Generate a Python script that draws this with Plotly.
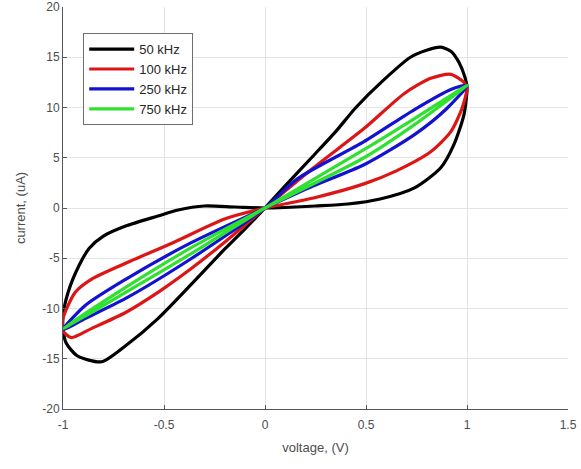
import plotly.graph_objects as go

# Loop path for each frequency: start at (-1,-12), steep branch up through origin
# to the peak and (1,12), then back along the flat branch through origin to (-1,-12).
v_50 = [-1.0, -0.985, -0.93, -0.81, -0.69, -0.53, -0.37, -0.2, -0.1, 0.0,
        0.1, 0.23, 0.35, 0.45, 0.58, 0.72, 0.8, 0.87, 0.92, 0.96, 0.99, 1.0,
        0.985, 0.935, 0.87, 0.74, 0.57, 0.41, 0.25, 0.1, 0.0,
        -0.15, -0.3, -0.43, -0.53, -0.69, -0.8, -0.87, -0.92, -0.975, -1.0, -1.0]
i_50 = [-12.0, -13.4, -14.7, -15.3, -13.7, -11.0, -7.7, -4.1, -2.1, 0.0,
        2.2, 5.0, 7.6, 10.0, 12.6, 15.0, 15.7, 16.0, 15.6, 14.5, 13.0, 12.0,
        9.3, 6.3, 4.0, 2.0, 0.9, 0.4, 0.2, 0.05, 0.0,
        0.1, 0.2, -0.2, -0.8, -1.8, -2.8, -4.0, -5.7, -8.4, -10.7, -12.0]

v_100 = [-1.0, -0.96, -0.86, -0.69, -0.53, -0.37, -0.2, 0.0,
         0.24, 0.49, 0.69, 0.82, 0.92, 0.985, 1.0,
         0.975, 0.92, 0.82, 0.65, 0.49, 0.24, 0.0,
         -0.2, -0.45, -0.69, -0.86, -0.94, -1.0, -1.0]
i_100 = [-12.2, -12.9, -12.0, -10.4, -8.4, -6.1, -3.4, 0.0,
         4.0, 7.9, 11.4, 12.9, 13.3, 12.5, 12.0,
         9.9, 7.6, 5.6, 3.7, 2.4, 1.0, 0.0,
         -1.1, -3.4, -5.5, -7.1, -8.4, -11.0, -12.2]

v_250 = [-1.0, -0.89, -0.69, -0.37, 0.0,
         0.16, 0.49, 0.74, 0.92, 1.0,
         0.9, 0.74, 0.49, 0.24, 0.0,
         -0.37, -0.69, -0.89, -1.0]
i_250 = [-12.1, -11.0, -9.0, -5.1, 0.0,
         2.9, 6.6, 9.8, 11.8, 12.2,
         9.9, 7.3, 4.3, 2.2, 0.0,
         -3.5, -7.1, -9.7, -12.1]

v_750 = [-1.0, -0.69, -0.37, 0.0, 0.49, 0.74, 1.0, 0.74, 0.49, 0.0, -0.37, -0.69, -1.0]
i_750 = [-12.0, -8.4, -4.6, 0.0, 5.8, 8.9, 12.2, 8.3, 5.0, 0.0, -4.0, -7.9, -12.0]

series_names = ["50 kHz", "100 kHz", "250 kHz", "750 kHz"]
series_colors = ["#000000", "#dd1515", "#1212d0", "#30e030"]
series_v = [v_50, v_100, v_250, v_750]
series_i = [i_50, i_100, i_250, i_750]

x_ticks = [-1, -0.5, 0, 0.5, 1, 1.5]
y_ticks = [-20, -15, -10, -5, 0, 5, 10, 15, 20]

fig = go.Figure()
for name, col, vv, ii in zip(series_names, series_colors, series_v, series_i):
    fig.add_trace(go.Scatter(x=vv, y=ii, mode="lines", name=name,
                             line=dict(color=col, width=3.2, shape="spline", smoothing=0.7)))

axis_font = dict(family="Liberation Sans, Arial, sans-serif", size=12, color="#4d4d4d")
fig.update_layout(
    width=581, height=469,
    margin=dict(l=63, r=13, t=7, b=60, autoexpand=False),
    paper_bgcolor="white", plot_bgcolor="white",
    font=axis_font,
    showlegend=True,
    legend=dict(x=0.04, y=0.935, xanchor="left", yanchor="top",
                bgcolor="white", bordercolor="#6e6e6e", borderwidth=1,
                font=dict(family="Liberation Sans, Arial, sans-serif", size=13, color="#262626"),
                tracegroupgap=0, itemwidth=45),
    xaxis=dict(range=[-1, 1.5], tickvals=x_ticks, ticktext=[str(t) for t in x_ticks],
               showgrid=True, gridcolor="#e4e4e4", gridwidth=1, zeroline=False,
               showline=True, linecolor="#555555", linewidth=1, automargin=False,
               ticklabeloverflow="allow", ticklabelstandoff=5,
               ticks="inside", ticklen=4, tickcolor="#555555",
               title=dict(text="voltage, (V)", font=dict(size=13, color="#4d4d4d"), standoff=11)),
    yaxis=dict(range=[-20, 20], tickvals=y_ticks, ticktext=[str(t) for t in y_ticks],
               showgrid=True, gridcolor="#e4e4e4", gridwidth=1, zeroline=False,
               showline=True, linecolor="#555555", linewidth=1, automargin=False,
               ticklabeloverflow="allow",
               ticks="inside", ticklen=4, tickcolor="#555555",
               title=dict(text="current, (uA)", font=dict(size=13, color="#4d4d4d"), standoff=13)),
)

fig.write_html("out.html", config={"displayModeBar": False},
               post_script="document.body.style.margin='0';")
